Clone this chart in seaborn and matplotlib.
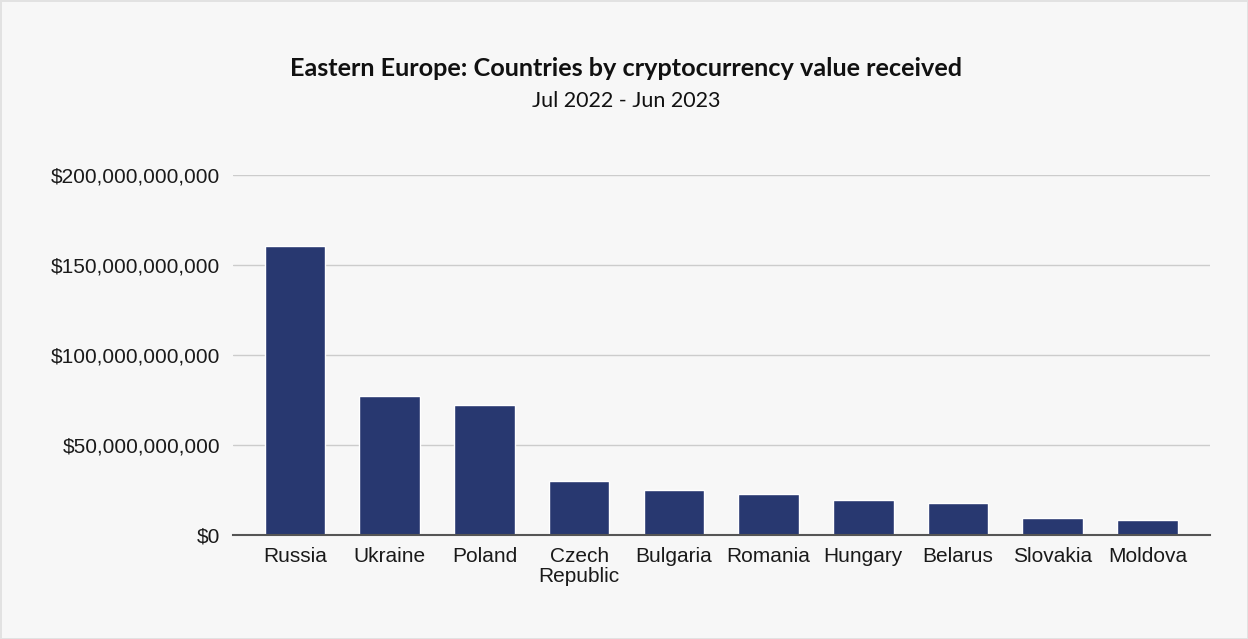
import matplotlib
matplotlib.use("Agg")
import matplotlib.pyplot as plt
import seaborn as sns
import pandas as pd
from matplotlib.ticker import FuncFormatter, MultipleLocator

countries = ["Russia", "Ukraine", "Poland", "Czech\nRepublic", "Bulgaria",
             "Romania", "Hungary", "Belarus", "Slovakia", "Moldova"]
values_bn = [160.4, 77.5, 72.3, 30.0, 24.8, 23.0, 19.7, 18.0, 9.4, 8.6]

df = pd.DataFrame({"country": countries, "value": [v * 1e9 for v in values_bn]})

sns.set_theme(style="white")
plt.rcParams['font.family'] = ['Liberation Sans', 'DejaVu Sans']

bg = "#f7f7f7"
fig = plt.figure(figsize=(12.48, 6.39), dpi=100, facecolor=bg)
fig.patch.set_edgecolor("#e2e2e2")
fig.patch.set_linewidth(2)
ax = fig.add_axes([233/1248, 1 - 535/639, (1210-233)/1248, (535-175)/639])
ax.set_facecolor(bg)

sns.barplot(data=df, x="country", y="value", color="#283870", width=0.64,
            saturation=1, ax=ax, zorder=3)

ax.set_ylim(0, 200e9)
ax.set_xlim(-0.655, 9.66)
ax.yaxis.set_major_locator(MultipleLocator(50e9))
ax.yaxis.set_major_formatter(FuncFormatter(lambda v, p: "${:,.0f}".format(v)))
ax.grid(axis="y", color="#cccccc", linewidth=1, zorder=0)
ax.set_axisbelow(True)
for s in ["top", "right", "left"]:
    ax.spines[s].set_visible(False)
ax.spines["bottom"].set_color("#555555")
ax.spines["bottom"].set_linewidth(1.5)
ax.spines["bottom"].set_zorder(4)
ax.tick_params(axis="y", length=0, pad=9, labelsize=15, labelcolor="#1a1a1a")
ax.tick_params(axis="x", length=0, pad=9, labelsize=15, labelcolor="#1a1a1a")
for t in ax.get_xticklabels():
    t.set_linespacing(1.05)
ax.set_xlabel("")
ax.set_ylabel("")

fig.text(626/1248, 1 - 68/639, "Eastern Europe: Countries by cryptocurrency value received",
         ha="center", va="center", fontsize=18.2, fontweight="bold",
         family=["Lato", "DejaVu Sans"], color="#111111")
fig.text(626/1248, 1 - 101/639, "Jul 2022 - Jun 2023",
         ha="center", va="center", fontsize=15.5,
         family=["Lato", "DejaVu Sans"], color="#111111")

fig.savefig("out.png", dpi=100, facecolor=bg, edgecolor=fig.patch.get_edgecolor())
